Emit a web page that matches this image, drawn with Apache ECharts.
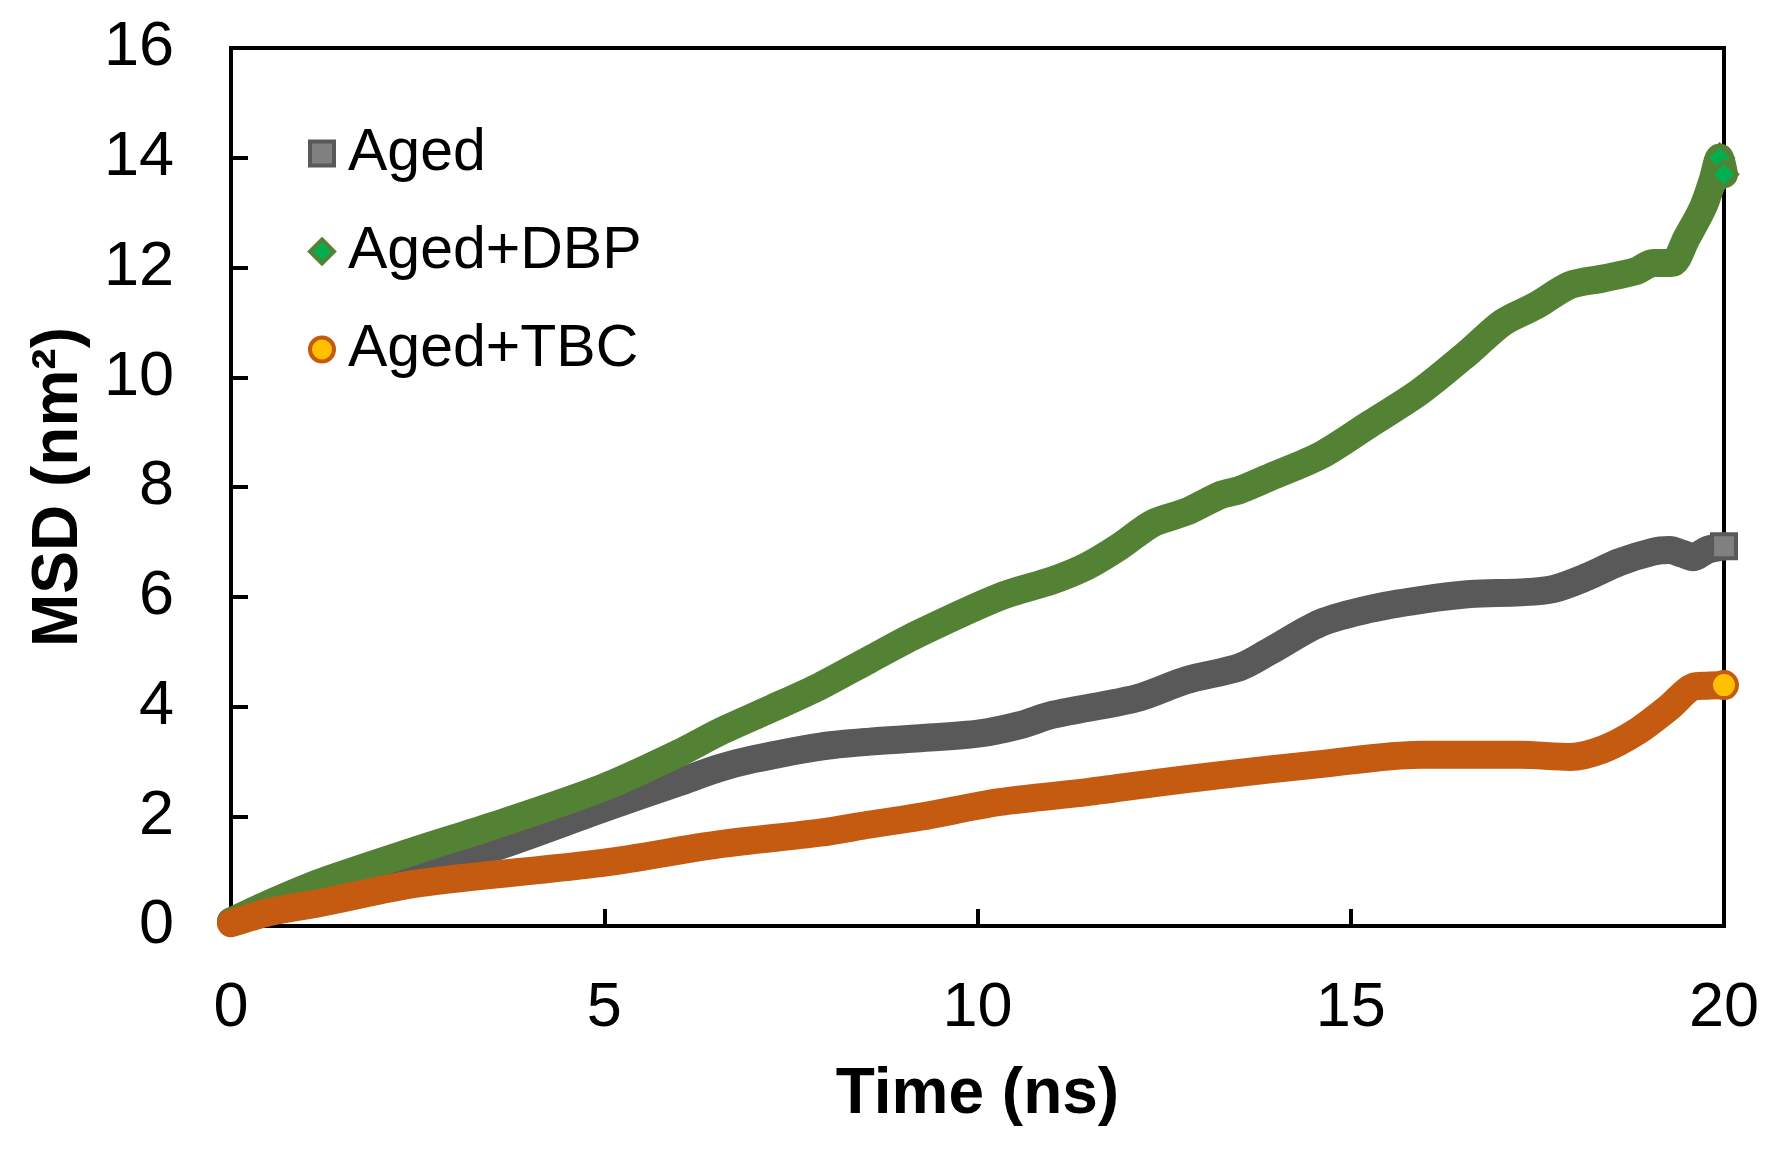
<!DOCTYPE html>
<html>
<head>
<meta charset="utf-8">
<script src="https://cdn.jsdelivr.net/npm/echarts@6/dist/echarts.min.js"></script>
<style>
html,body{margin:0;padding:0;background:#fff;}
#chart{width:1785px;height:1157px;}
</style>
</head>
<body>
<div id="chart"></div>
<script>
// ---- data ----
const seriesNames = ['Aged', 'Aged+DBP', 'Aged+TBC'];

const agedTime = [0, 0.5, 1.2, 2.5, 3.5, 5, 6, 6.55, 7, 7.9, 8.56, 9.23, 10.03, 10.57, 11.01, 12.13, 12.8, 13.52, 13.92, 14.59, 15.26, 15.93, 16.6, 17.27, 17.71, 18.16, 18.6, 19.05, 19.27, 19.45, 19.59, 19.77, 20];
const agedMSD  = [0.08, 0.3, 0.6, 1.06, 1.42, 2.15, 2.62, 2.88, 3.04, 3.27, 3.36, 3.42, 3.51, 3.66, 3.85, 4.15, 4.48, 4.72, 5.01, 5.52, 5.78, 5.94, 6.05, 6.08, 6.14, 6.36, 6.63, 6.82, 6.85, 6.78, 6.72, 6.85, 6.92];

const dbpTime = [0, 0.5, 1.19, 2.53, 3.5, 4.98, 6.0, 6.55, 7.22, 7.89, 8.56, 9.23, 10.3, 11.01, 11.47, 11.91, 12.35, 12.8, 13.25, 13.52, 13.92, 14.59, 15.26, 15.93, 16.6, 17.04, 17.49, 17.94, 18.38, 18.83, 19.05, 19.3, 19.5, 19.72, 19.85, 19.94, 20];
const dbpMSD  = [0.08, 0.4, 0.79, 1.4, 1.82, 2.52, 3.15, 3.54, 3.95, 4.37, 4.86, 5.34, 6.0, 6.3, 6.56, 6.92, 7.34, 7.55, 7.85, 7.95, 8.18, 8.57, 9.15, 9.74, 10.48, 11.0, 11.31, 11.68, 11.8, 11.94, 12.08, 12.08, 12.54, 13.1, 13.6, 14.0, 13.7];

const tbcTime = [0, 0.5, 1.19, 2.53, 4.98, 6.55, 7.89, 8.56, 9.23, 10.3, 11.47, 12.35, 13.25, 14.59, 15.93, 17.27, 17.94, 18.38, 18.83, 19.27, 19.59, 19.77, 20];
const tbcMSD  = [0.05, 0.25, 0.42, 0.78, 1.15, 1.49, 1.70, 1.85, 1.99, 2.26, 2.44, 2.60, 2.75, 2.95, 3.12, 3.12, 3.08, 3.22, 3.54, 3.99, 4.36, 4.38, 4.39];

const xTicks = [0, 5, 10, 15, 20];
const yTicks = [0, 2, 4, 6, 8, 10, 12, 14, 16];

// ---- styles ----
const FONT = "'Liberation Sans', Arial, sans-serif";
const styles = [
  { line: '#595959', fill: '#808080', symbol: 'rect', size: 24 },
  { line: '#548235', fill: '#00B050', symbol: 'diamond', size: 26 },
  { line: '#C55A11', fill: '#FFC000', symbol: 'circle', size: 26 }
];

function buildData(ts, vs, st, markLast) {
  return ts.map((t, i) => {
    const item = { value: [t, vs[i]] };
    if (i >= ts.length - markLast) {
      item.symbol = st.symbol;
      item.symbolSize = st.size;
      item.itemStyle = { color: st.fill, borderColor: st.line, borderWidth: 4 };
    }
    return item;
  });
}

function mkSeries(name, ts, vs, st, markLast) {
  return {
    name: name,
    type: 'line',
    data: buildData(ts, vs, st, markLast),
    smooth: 0.3,
    symbol: 'none',
    showSymbol: true,
    showAllSymbol: true,
    lineStyle: { color: st.line, width: 28, cap: 'round', join: 'round' },
    itemStyle: { color: st.fill, borderColor: st.line, borderWidth: 4 },
    emphasis: { disabled: true },
    silent: true
  };
}

const chart = echarts.init(document.getElementById('chart'), null, { renderer: 'canvas' });
chart.setOption({
  animation: false,
  backgroundColor: '#fff',
  textStyle: { fontFamily: FONT },
  grid: {
    left: 231, right: 61, top: 48, bottom: 231,
    show: true, borderColor: '#000', borderWidth: 4, backgroundColor: 'transparent'
  },
  legend: {
    orient: 'vertical',
    left: 303, top: 119,
    itemWidth: 24, itemHeight: 24,
    itemGap: 39,
    selectedMode: false,
    textStyle: { fontSize: 59, lineHeight: 58, color: '#000', fontFamily: FONT, padding: [0, 0, 0, 9] },
    data: seriesNames.map((n, i) => ({
      name: n,
      icon: styles[i].symbol,
      itemStyle: { color: styles[i].fill, borderColor: styles[i].line, borderWidth: 4 }
    }))
  },
  xAxis: {
    type: 'value',
    min: 0, max: 20, interval: 5,
    name: 'Time (ns)',
    nameLocation: 'middle',
    nameGap: 137,
    nameTextStyle: { fontSize: 64, fontWeight: 'bold', color: '#000', fontFamily: FONT },
    axisLine: { show: true, lineStyle: { color: '#000', width: 4 } },
    axisTick: { show: true, inside: true, length: 17, lineStyle: { color: '#000', width: 4 } },
    axisLabel: {
      fontSize: 63, color: '#000', margin: 51, fontFamily: FONT,
      formatter: v => (xTicks.indexOf(v) >= 0 ? String(v) : '')
    },
    splitLine: { show: false }
  },
  yAxis: {
    type: 'value',
    min: 0, max: 16, interval: 2,
    name: 'MSD (nm²)',
    nameLocation: 'middle',
    nameGap: 140,
    nameTextStyle: { fontSize: 64, fontWeight: 'bold', color: '#000', fontFamily: FONT },
    axisLine: { show: true, lineStyle: { color: '#000', width: 4 } },
    axisTick: { show: true, inside: true, length: 17, lineStyle: { color: '#000', width: 4 } },
    axisLabel: {
      fontSize: 63, color: '#000', margin: 57, fontFamily: FONT,
      formatter: v => (yTicks.indexOf(v) >= 0 ? String(v) : '')
    },
    splitLine: { show: false }
  },
  series: [
    mkSeries(seriesNames[0], agedTime, agedMSD, styles[0], 1),
    mkSeries(seriesNames[1], dbpTime, dbpMSD, styles[1], 2),
    mkSeries(seriesNames[2], tbcTime, tbcMSD, styles[2], 1)
  ]
});
</script>
</body>
</html>
